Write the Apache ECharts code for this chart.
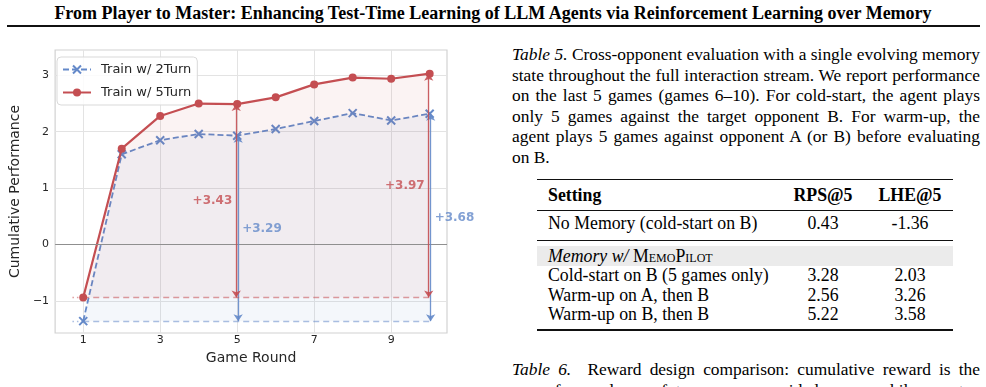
<!DOCTYPE html>
<html>
<head>
<meta charset="utf-8">
<script src="https://cdn.jsdelivr.net/npm/echarts@6/dist/echarts.min.js"></script>
<style>
  html, body { margin: 0; padding: 0; background: #fff; }
  body { width: 986px; height: 387px; overflow: hidden; position: relative; font-family: "Liberation Serif", "Times New Roman", serif; color: #000; }
  #chart { position: absolute; left: 0; top: 0; width: 480px; height: 387px; }
  .title { position: absolute; left: 0; width: 986px; top: 3px; text-align: center; font-weight: bold; font-size: 18px; line-height: 20px; }
  .rule { position: absolute; background: #111; }
  .cap { position: absolute; left: 512px; width: 468px; font-size: 17.4px; line-height: 20.5px; white-space: nowrap; }
  .cap div { text-align: justify; text-align-last: justify; }
  .cap div.last { text-align-last: left; }
  .cell { position: absolute; font-size: 17.8px; line-height: 20px; white-space: nowrap; }
  .c1 { left: 548px; }
  .c2 { left: 783px; width: 80px; text-align: center; }
  .c3 { left: 870px; width: 80px; text-align: center; }
</style>
</head>
<body>
<div class="title">From Player to Master: Enhancing Test-Time Learning of LLM Agents via Reinforcement Learning over Memory</div>
<div class="rule" style="left:7px; width:973px; top:25px; height:2px;"></div>

<div id="chart"></div>

<div class="cap" style="top:44px;">
  <div><span><i>Table 5.</i> Cross-opponent evaluation with a single evolving memory</span></div>
  <div><span>state throughout the full interaction stream. We report performance</span></div>
  <div><span>on the last 5 games (games 6–10). For cold-start, the agent plays</span></div>
  <div><span>only 5 games against the target opponent B. For warm-up, the</span></div>
  <div><span>agent plays 5 games against opponent A (or B) before evaluating</span></div>
  <div class="last"><span>on B.</span></div>
</div>

<!-- table 5 -->
<div class="rule" style="left:537px; width:416px; top:178.5px; height:1.6px;"></div>
<div class="cell c1" style="top:185px;"><b>Setting</b></div>
<div class="cell c2" style="top:185px;"><b>RPS@5</b></div>
<div class="cell c3" style="top:185px;"><b>LHE@5</b></div>
<div class="rule" style="left:537px; width:416px; top:210px; height:1px;"></div>
<div class="cell c1" style="top:213px;">No Memory (cold-start on B)</div>
<div class="cell c2" style="top:213px;">0.43</div>
<div class="cell c3" style="top:213px;">-1.36</div>
<div class="rule" style="left:537px; width:416px; top:239.5px; height:1px;"></div>
<div style="position:absolute; left:537px; width:416px; top:246px; height:20px; background:#ebebeb;"></div>
<div class="cell c1" style="top:246px;"><i>Memory w/</i> <span style="font-variant:small-caps">MemoPilot</span></div>
<div class="cell c1" style="top:265px;">Cold-start on B (5 games only)</div>
<div class="cell c2" style="top:265px;">3.28</div>
<div class="cell c3" style="top:265px;">2.03</div>
<div class="cell c1" style="top:285px;">Warm-up on A, then B</div>
<div class="cell c2" style="top:285px;">2.56</div>
<div class="cell c3" style="top:285px;">3.26</div>
<div class="cell c1" style="top:304px;">Warm-up on B, then B</div>
<div class="cell c2" style="top:304px;">5.22</div>
<div class="cell c3" style="top:304px;">3.58</div>
<div class="rule" style="left:537px; width:416px; top:329px; height:1.6px;"></div>

<div class="cap" style="top:359px;">
  <div><span><i>Table 6.</i>&nbsp; Reward design comparison: cumulative reward is the</span></div>
  <div><span>sum of rewards over future memory-guided games, while one-step</span></div>
</div>

<script>
const rounds = [1, 2, 3, 4, 5, 6, 7, 8, 9, 10];
const turn2 = [-1.36, 1.60, 1.85, 1.96, 1.93, 2.05, 2.19, 2.33, 2.20, 2.32];
const turn5 = [-0.94, 1.70, 2.28, 2.50, 2.49, 2.61, 2.84, 2.96, 2.94, 3.03];
const xTicks = [1, 3, 5, 7, 9];
const yTicks = [-1, 0, 1, 2, 3];
const gainRounds = [5, 10];

const BLUE = '#6489c9';
const RED = '#c44e52';
const FONT = 'DejaVu Sans';

// caption lines: squeeze word spacing when a line is a bit too long (latex shrinks spaces)
document.querySelectorAll('.cap div').forEach(line => {
  const span = line.querySelector('span');
  const w = span.getBoundingClientRect().width;
  const spaces = (span.textContent.trim().match(/\s+/g) || []).length;
  if (w > 468 && spaces) line.style.wordSpacing = ((468 - w) / spaces) + 'px';
});

// baseline (round 1) + arrows down to it at the marked rounds
function markLines(vals, color, dx) {
  const base = vals[0];
  const lines = [
    [{ coord: [0.72, base], lineStyle: { type: [1.5, 3] } }, { coord: [rounds[0], base] }],
    [{ coord: [rounds[0], base], lineStyle: { type: [6, 4] } }, { coord: [rounds[rounds.length - 1], base] }],
  ];
  gainRounds.forEach(r => {
    lines.push([
      { coord: [r + dx, vals[r - 1]], symbol: 'arrow', symbolSize: 7, lineStyle: { type: 'solid', opacity: 0.9, width: 1.3 } },
      { coord: [r + dx, base], symbol: 'arrow', symbolSize: 7 },
    ]);
  });
  return {
    silent: true,
    symbol: 'none',
    label: { show: false },
    lineStyle: { color, width: 1.3, opacity: 0.55 },
    data: lines,
  };
}

function gainPoints(vals, dx) {
  return gainRounds.map(r => [r + dx, (vals[r - 1] + vals[0]) / 2, vals[r - 1] - vals[0]]);
}

const chart = echarts.init(document.getElementById('chart'), null, { renderer: 'canvas' });
const option = {
  animation: false,
  textStyle: { fontFamily: FONT },
  grid: {
    left: 51, top: 50, width: 396, height: 283,
    show: true, borderColor: '#d2d2d2', borderWidth: 1.2, backgroundColor: 'transparent',
  },
  legend: {
    left: 57, top: 57,
    orient: 'vertical',
    itemWidth: 28, itemHeight: 10, itemGap: 10,
    padding: [6, 6, 6, 5],
    borderColor: '#d9d9d9', borderWidth: 1, borderRadius: 4,
    backgroundColor: 'rgba(255,255,255,0.85)',
    textStyle: { fontFamily: FONT, fontSize: 13, color: '#262626', padding: [0, 0, 0, 5] },
    data: ['Train w/ 2Turn', 'Train w/ 5Turn'],
  },
  xAxis: {
    type: 'value', min: 0.27, max: 10.45,
    name: 'Game Round', nameLocation: 'middle', nameGap: 17,
    nameTextStyle: { fontFamily: FONT, fontSize: 14, color: '#262626' },
    axisLine: { show: false },
    axisTick: { show: false, customValues: xTicks },
    axisLabel: { customValues: xTicks, fontSize: 11, color: '#262626', margin: 2 },
    splitLine: { show: true, lineStyle: { color: '#e3e3e3', width: 1 } },
  },
  yAxis: {
    type: 'value', min: -1.57, max: 3.45,
    name: 'Cumulative Performance', nameLocation: 'middle', nameGap: 19,
    nameTextStyle: { fontFamily: FONT, fontSize: 14, color: '#262626' },
    axisLine: { show: false },
    axisTick: { show: false, customValues: yTicks },
    axisLabel: {
      customValues: yTicks, fontSize: 11, color: '#262626', margin: 6,
      formatter: v => (v < 0 ? '\u2212' + Math.abs(v) : String(v)),
    },
    splitLine: { show: true, lineStyle: { color: '#e3e3e3', width: 1 } },
  },
  series: [
    {
      name: 'zero',
      type: 'line',
      data: [],
      z: 1,
      markLine: {
        silent: true, symbol: 'none', label: { show: false },
        lineStyle: { color: '#8f8f8f', width: 1.2, type: 'solid' },
        data: [{ yAxis: 0 }],
      },
    },
    {
      name: 'Train w/ 2Turn',
      type: 'line',
      data: rounds.map((r, i) => [r, turn2[i]]),
      z: 3,
      symbol: 'path://M0,0L10,10M10,0L0,10',
      symbolSize: 8,
      itemStyle: { color: BLUE, borderColor: BLUE, borderWidth: 2 },
      lineStyle: { color: BLUE, width: 1.8, type: [6, 3] },
      areaStyle: { origin: turn2[0], color: 'rgba(100,137,201,0.1)' },
      markLine: markLines(turn2, BLUE, 0.025),
    },
    {
      name: 'Train w/ 5Turn',
      type: 'line',
      data: rounds.map((r, i) => [r, turn5[i]]),
      z: 4,
      symbol: 'circle',
      symbolSize: 8,
      itemStyle: { color: RED, borderWidth: 0 },
      lineStyle: { color: RED, width: 2.2 },
      areaStyle: { origin: turn5[0], color: 'rgba(196,78,82,0.1)' },
      markLine: markLines(turn5, RED, -0.025),
    },
    {
      name: 'gain5',
      type: 'scatter',
      symbolSize: 0,
      z: 6,
      data: gainPoints(turn5, -0.025),
      label: {
        show: true, position: 'left', distance: 4,
        fontFamily: FONT, fontSize: 12, fontWeight: 'bold', color: RED,
        formatter: p => '+' + p.value[2].toFixed(2),
      },
    },
    {
      name: 'gain2',
      type: 'scatter',
      symbolSize: 0,
      z: 6,
      data: gainPoints(turn2, 0.025),
      label: {
        show: true, position: 'right', distance: 4,
        fontFamily: FONT, fontSize: 12, fontWeight: 'bold', color: BLUE,
        formatter: p => '+' + p.value[2].toFixed(2),
      },
    },
  ],
};
chart.setOption(option);
</script>
</body>
</html>
